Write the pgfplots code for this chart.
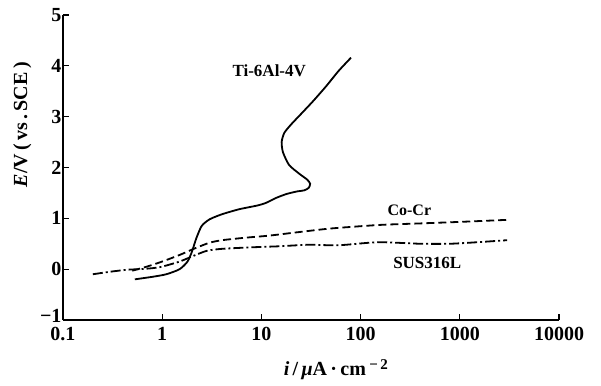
\documentclass[border=0pt]{standalone}
\usepackage{pgfplots}
\pgfplotsset{compat=1.18}
\usepackage{fontspec}
\setmainfont{Liberation Serif}
\begin{document}
\begin{tikzpicture}
\begin{axis}[
  name=ax,
  scale only axis,
  width=496pt, height=305pt,
  xmode=log,
  xmin=0.1, xmax=10000,
  ymin=-1, ymax=5,
  axis lines=left,
  axis line style={-, line width=1.4pt},
  tick align=inside,
  major tick length=6pt,
  tick style={line width=1.2pt, black},
  minor tick num=0,
  xtick={1,10,100,1000,10000},
  extra x ticks={0.1},
  extra x tick style={major tick length=0pt},
  extra x tick labels={0.1},
  xticklabels={1,10,100,1000,10000},
  ytick={0,1,2,3,4,5},
  yticklabels={0,1,2,3,4,5},
  extra y ticks={-1},
  extra y tick labels={−1},
  extra y tick style={yticklabel style={yshift=4pt}},
  log basis x=10,
  ticklabel style={font=\bfseries\fontsize{20}{20}\selectfont},
  /pgf/number format/assume math mode=true,
  xticklabel style={yshift=-4pt},
  yticklabel style={xshift=2pt},
  clip=false,
  xlabel={\textit{i}\,/\,\textit{μ}A\,·\,cm\,\raisebox{0.7ex}{\fontsize{15}{15}\selectfont −\,2}},
  xlabel style={font=\bfseries\fontsize{20}{20}\selectfont, at={(rel axis cs:0.55,0)}, anchor=north, yshift=-36pt},
  ylabel={\textit{E}/V\,(\,vs\,.\,SCE\,)},
  ylabel style={font=\bfseries\fontsize{20}{20}\selectfont, at={(rel axis cs:0,0.64)}, anchor=south, rotate=0, yshift=28pt},
]
\addplot[black, line width=1.8pt, smooth, tension=0.4] coordinates {
(0.53,-0.2) (0.8,-0.15) (1.1,-0.1) (1.5,0.0) (1.8,0.15) (2.0,0.35) (2.2,0.6) (2.5,0.85) (3.0,0.98) (4,1.08) (6,1.18) (9,1.25) (11,1.3) (14,1.4) (18,1.48) (23,1.53) (27,1.55) (30,1.6) (31,1.68) (29,1.76) (24,1.88) (19,2.05) (16.5,2.3) (16,2.5) (17,2.68) (20,2.85) (25,3.05) (33,3.3) (45,3.6) (60,3.9) (80,4.16)
};
\addplot[black, line width=1.8pt, dash pattern=on 8pt off 4pt, smooth, tension=0.4] coordinates {
(0.5,-0.03) (0.7,0.05) (1.0,0.15) (1.5,0.28) (2.2,0.42) (3,0.52) (4,0.57) (7,0.62) (12,0.66) (24,0.73) (50,0.8) (155,0.87) (400,0.9) (1000,0.93) (3000,0.97)
};
\addplot[black, line width=1.8pt, dash pattern=on 10pt off 3pt on 2pt off 3pt, smooth, tension=0.4] coordinates {
(0.2,-0.1) (0.3,-0.05) (0.45,-0.01) (0.6,0.0) (0.8,0.02) (1.0,0.05) (1.5,0.15) (2.0,0.25) (2.8,0.36) (4,0.4) (8,0.43) (15,0.45) (30,0.48) (60,0.47) (150,0.53) (400,0.5) (800,0.5) (1500,0.53) (3000,0.57)
};
\node[font=\bfseries\fontsize{17}{17}\selectfont] at (axis cs:12,3.9) {Ti-6Al-4V};
\node[font=\bfseries\fontsize{16}{16}\selectfont] at (axis cs:310,1.16) {Co-Cr};
\node[font=\bfseries\fontsize{17}{17}\selectfont] at (axis cs:470,0.12) {SUS316L};
\coordinate (bl) at (rel axis cs:0,0);
\coordinate (tr) at (rel axis cs:1,1);
\end{axis}
\path ([shift={(-63pt,-65pt)}]bl) rectangle ([shift={(42pt,15pt)}]tr);
\end{tikzpicture}
\end{document}
